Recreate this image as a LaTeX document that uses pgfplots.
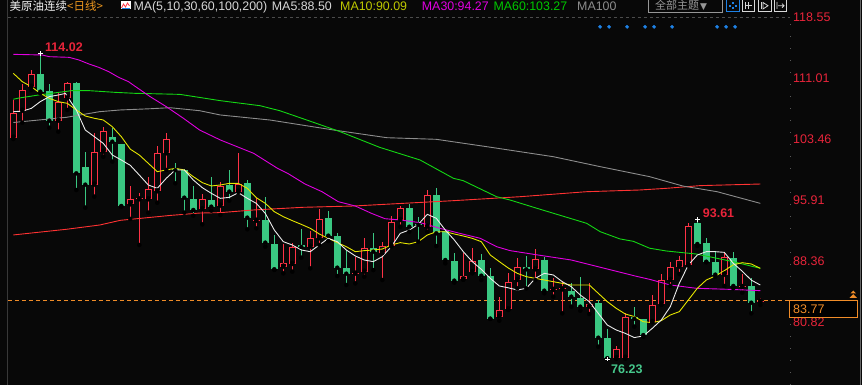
\documentclass[border=0pt]{standalone}
\usepackage{pgfplots}
\pgfplotsset{compat=1.18}
\usepackage{pgfplotstable}
\usepackage{fontspec}
\setmainfont{Liberation Sans}
\newfontfamily\cjkf{Noto Sans CJK SC}
\newfontfamily\dvs{DejaVu Sans}
\definecolor{bg}{RGB}{8,8,8}
\definecolor{upred}{RGB}{255,50,70}
\definecolor{dngreen}{RGB}{58,200,130}
\definecolor{ma5}{RGB}{235,235,235}
\definecolor{ma10}{RGB}{230,230,0}
\definecolor{ma30}{RGB}{225,0,225}
\definecolor{ma60}{RGB}{20,215,20}
\definecolor{ma100}{RGB}{140,140,140}
\definecolor{ma200}{RGB}{255,50,50}
\definecolor{axred}{RGB}{232,36,58}
\definecolor{curorange}{RGB}{240,140,40}
\definecolor{lowgreen}{RGB}{70,200,140}
\definecolor{dotblue}{RGB}{30,130,230}
\definecolor{hdrgray}{RGB}{215,215,215}
\definecolor{hdrwhite}{RGB}{240,240,240}
\definecolor{hdrorange}{RGB}{235,150,30}
\definecolor{ma10lbl}{RGB}{190,200,0}
\definecolor{ma60lbl}{RGB}{0,200,0}
\definecolor{btngray}{RGB}{150,150,150}

\pgfplotstableread{
i o h l c
0 103.62 108.28 103.46 106.63
1 106.96 110.26 105.48 109.52
2 109.93 111.99 109.52 111.50
5 105.73 109.11 104.37 108.08
6 108.49 110.55 107.05 110.35
9 97.81 104.16 96.33 101.81
10 101.89 104.90 101.27 104.41
13 95.38 97.65 93.57 96.00
14 96.00 96.74 90.35 96.12
15 96.00 98.72 94.35 97.23
16 96.99 102.59 95.58 101.69
17 101.69 104.16 99.63 103.42
21 94.76 96.66 92.90 96.00
23 95.21 98.18 94.06 97.69
25 96.95 101.69 96.90 97.89
27 93.35 96.13 92.41 93.47
30 87.67 90.47 86.84 88.08
31 88.00 90.55 87.05 90.06
33 90.14 92.08 87.46 91.17
34 91.17 94.76 90.35 93.52
38 86.80 88.82 85.60 86.92
39 87.05 91.17 86.43 89.93
41 89.32 90.76 86.02 90.22
42 90.27 93.94 90.14 93.24
43 93.44 95.17 92.61 94.88
46 92.61 97.15 92.00 96.53
50 86.10 89.32 86.05 86.55
51 86.97 90.02 86.84 88.37
54 81.49 83.87 80.99 82.31
55 82.39 86.84 82.31 85.73
56 86.02 88.70 84.99 87.58
58 87.34 89.81 86.02 88.57
60 84.80 86.23 83.96 84.92
61 84.85 85.94 81.89 84.97
64 82.72 85.60 81.81 83.00
67 76.35 77.85 76.30 77.44
68 76.40 81.89 76.30 81.40
71 80.82 84.20 80.80 82.88
72 83.01 86.76 82.93 86.02
73 86.02 88.28 85.28 87.67
74 87.67 88.99 86.76 88.49
75 87.87 93.03 87.80 92.70
79 86.68 89.40 85.28 88.82
81 85.15 86.76 84.45 85.27
83 83.34 83.75 82.93 83.46
}\updata

\pgfplotstableread{
i o h l c
3 111.50 114.02 109.10 109.31
4 109.40 110.26 104.86 105.73
7 110.35 110.47 97.15 99.21
8 100.00 101.81 94.97 97.81
11 103.67 104.78 100.66 103.13
12 102.84 102.90 95.10 95.17
18 99.75 100.45 97.98 99.60
19 99.63 99.70 94.35 96.20
20 96.04 97.65 93.98 94.68
22 95.91 98.72 94.60 95.09
24 97.77 99.63 95.83 96.95
26 98.06 98.39 92.29 93.73
28 93.44 96.24 90.14 90.64
29 90.47 91.58 87.26 87.34
32 90.35 92.28 88.78 90.10
35 93.64 94.55 90.84 91.50
36 91.46 91.79 86.51 87.54
37 87.54 89.73 85.40 86.80
40 89.93 91.79 87.25 89.52
44 94.88 95.42 92.00 92.61
45 93.00 93.77 90.76 92.85
47 96.53 97.36 90.22 91.79
48 92.12 92.20 88.08 88.49
49 88.37 89.32 85.69 85.94
52 88.49 89.23 86.02 86.55
53 86.51 87.46 81.20 81.24
57 87.58 88.99 84.99 87.34
59 88.49 88.90 84.37 84.70
62 84.66 85.69 82.72 83.96
63 83.75 86.35 82.23 82.72
65 83.21 83.54 77.77 78.88
66 78.80 79.92 76.23 76.35
69 81.48 82.64 80.25 81.23
70 81.15 81.20 78.99 79.21
76 93.11 93.50 90.22 90.47
77 90.55 91.17 88.20 88.28
78 88.24 89.65 86.43 86.68
80 88.70 89.52 84.99 85.28
82 85.28 86.23 81.89 83.21
}\dndata

\begin{document}
\begin{tikzpicture}[x=1pt,y=1pt]
\useasboundingbox (0,0) rectangle (862,385);
\fill[bg] (0,0) rectangle (862,385);

\begin{axis}[
  at={(8pt,0pt)}, anchor=south west,
  width=782pt, height=368pt, scale only axis,
  xmin=-0.589, xmax=86.3,
  ymin=73.03, ymax=118.55,
  axis line style={draw=none},
  xtick=\empty,
  ytick={118.55,111.01,103.46,95.91,88.36,80.82},
  yticklabels={118.55,111.01,103.46,95.91,88.36,80.82},
  ytick pos=right, yticklabel pos=right,
  major tick length=0pt,
  scaled y ticks=false,
  yticklabel style={anchor=west, inner sep=0pt, xshift=3pt, text=axred,
     font=\fontsize{12.5}{14}\selectfont},
]
% current price dashed line
\addplot[curorange, line width=1pt, dash pattern=on 4pt off 3pt, forget plot]
  coordinates {(-0.6,83.46) (86.3,83.46)};
% top grid line
\addplot[black!70!white, line width=0.8pt, dash pattern=on 3pt off 3pt, forget plot]
  coordinates {(-0.6,118.47) (86.3,118.47)};

% ---- up candles (hollow red)
\addplot[only marks, mark=none, forget plot,
  error bars/.cd, y dir=plus, y explicit, error mark=none,
  error bar style={draw=upred, line width=1pt}]
  table[x=i, y=l, y error expr=\thisrow{h}-\thisrow{l}] {\updata};
\addplot[only marks, mark=none, forget plot,
  error bars/.cd, y dir=plus, y explicit, error mark=none,
  error bar style={draw=upred, line width=6.5pt}]
  table[x=i, y=o, y error expr=\thisrow{c}-\thisrow{o}] {\updata};
\addplot[only marks, mark=none, forget plot,
  error bars/.cd, y dir=plus, y explicit, error mark=none,
  error bar style={draw=bg, line width=4.5pt}]
  table[x=i, y expr=\thisrow{o}+0.125, y error expr={max(\thisrow{c}-\thisrow{o}-0.25,0)}] {\updata};

% ---- down candles (filled green)
\addplot[only marks, mark=none, forget plot,
  error bars/.cd, y dir=plus, y explicit, error mark=none,
  error bar style={draw=dngreen, line width=1pt}]
  table[x=i, y=l, y error expr=\thisrow{h}-\thisrow{l}] {\dndata};
\addplot[only marks, mark=none, forget plot,
  error bars/.cd, y dir=plus, y explicit, error mark=none,
  error bar style={draw=dngreen, line width=6.5pt}]
  table[x=i, y=c, y error expr=\thisrow{o}-\thisrow{c}] {\dndata};

% ---- MA200
\addplot[ma200, line width=0.9pt, mark=none] coordinates {
(0,91.59) (5.9,92.29) (9.6,92.82) (11.9,93.4) (17.4,94.0) (20.7,94.3) (23,94.35)
(26.7,94.68) (32.2,95.01) (37.8,95.17) (43.3,95.5) (48.9,95.83) (56.3,96.32)
(63.7,96.94) (69.6,97.15) (72.6,97.36) (76.3,97.69) (83,97.89)};
% ---- MA100
\addplot[ma100, line width=0.9pt, mark=none] coordinates {
(0,105.5) (5.9,106.14) (9.6,106.84) (11.9,107.05) (15.2,107.2) (17.4,107.33)
(20.7,106.96) (23,106.43) (28.5,105.81) (35.6,104.57) (41.5,103.62) (47,103.42)
(52.6,102.51) (60,101.27) (65.2,100.04) (70.7,98.8) (74.4,97.64) (78.2,96.94) (83,95.5)};
% ---- MA60
\addplot[ma60, line width=0.9pt, mark=none] coordinates {
(0,108.37) (0.5,108.5) (2.8,108.9) (6.5,109.44) (8.4,109.44) (11.3,109.23)
(13.5,109.11) (18.5,108.98) (23,108.2) (27.4,107.58) (29.6,106.96) (32.6,105.81)
(36.3,104.37) (40.7,102.43) (45.2,100.86) (48.9,98.6) (50,98.3) (53.7,96.32)
(55.2,95.91) (58.2,94.88) (63.7,93.03) (65.2,92.0) (67.4,91.1) (68.9,90.8)
(70.7,89.95) (72.6,89.6) (75.9,89.23) (80,88.28) (83,87.46)};
% ---- MA30
\addplot[ma30, line width=0.9pt, mark=none] coordinates {
(0,113.93) (3.2,113.85) (4,113.64) (6.2,113.56) (7.3,113.23) (8.4,112.74)
(9.5,112.32) (10.6,111.79) (11.7,111.09) (12.8,110.55) (13.5,110.0) (15.2,108.7)
(17.0,107.46) (18.9,106.02) (20.7,104.57) (23,103.34) (26.7,101.69) (29.4,99.8)
(30.5,99.2) (32.4,97.9) (34.3,96.94) (36.1,95.71) (38.0,95.17) (39.8,94.26)
(41.3,93.6) (43.0,93.44) (45.2,93.11) (47.4,92.41) (49.6,91.79) (51.9,91.17)
(53.7,90.14) (55.2,89.65) (58.3,89.11) (62,88.49) (65.7,87.46) (69.1,86.51)
(70.7,86.1) (73,85.4) (75.9,84.99) (79.6,84.86) (83,84.7)};
% ---- MA10
\addplot[ma10, line width=0.9pt, mark=none] coordinates {
(0,111.58) (1,110.55) (2,109.93) (3,109.11) (4,108.49) (5,108.08) (6,107.87)
(7,107.05) (8,106.3) (9,106.02) (10,105.81) (11,104.98) (12,103.75) (13,102.2)
(14,101.48) (15,100.45) (16,99.42) (17,99.63) (18,99.83) (19,99.63) (20,98.8)
(21,98.06) (22,97.65) (23,97.77) (24,97.97) (25,97.97) (26,97.36) (27,96.2)
(28,95.5) (29,94.47) (30,93.85) (31,93.36) (32,92.9) (33,92.41) (34,91.71)
(35,91.17) (36,90.64) (37,90.14) (38,89.52) (39,89.65) (40,89.73) (41,89.85)
(42,90.35) (43,90.64) (44,90.47) (45,90.76) (46,91.58) (47,91.99) (48,91.99)
(49,91.71) (50,91.46) (51,91.17) (52,90.76) (53,89.11) (54,88.29) (55,87.5)
(56,86.84) (57,86.43) (58,86.22) (59,86.02) (60,85.81) (61,85.6) (62,85.4)
(63,85.4) (64,85.4) (65,84.37) (66,83.34) (67,82.51) (68,81.81) (69,81.5)
(70,80.86) (71,80.74) (72,80.99) (73,81.69) (74,82.1) (75,83.54) (76,84.99)
(77,86.02) (78,86.51) (79,87.17) (80,87.9) (81,88.16) (82,88.0) (83,87.46)};
% ---- MA5
\addplot[ma5, line width=0.9pt, mark=none] coordinates {
(0,106.84) (1,106.9) (2,107.25) (3,108.08) (4,108.7) (5,108.9) (5.8,109.1)
(6,108.7) (7,107.05) (8,104.57) (9,103.75) (10,102.92) (11,101.48) (12,100.86)
(13,100.2) (14,99.0) (15,97.77) (16,97.36) (17,98.6) (18,99.63) (19,99.63)
(20,98.39) (21,97.44) (22,96.74) (23,96.12) (24,96.24) (25,96.82) (26,96.12)
(27,95.5) (28,94.26) (29,92.2) (30,90.76) (31,90.35) (32,89.73) (33,89.52)
(34,90.35) (35,91.17) (36,90.76) (37,89.73) (38,88.99) (39,88.49) (40,88.29)
(41,88.9) (42,90.14) (43,91.79) (44,92.2) (45,92.9) (46,94.14) (47,93.65)
(48,92.2) (49,90.97) (50,89.52) (51,88.29) (52,87.34) (53,86.22) (54,85.28)
(55,85.05) (56,84.78) (57,84.99) (58,86.22) (59,86.84) (60,86.64) (61,85.81)
(62,85.19) (63,84.16) (64,83.34) (65,81.89) (66,80.45) (67,79.83) (68,79.42)
(69,78.9) (70,79.09) (71,80.04) (72,81.07) (73,82.72) (74,85.61) (75,87.87)
(76,89.11) (77,89.52) (78,89.52) (79,89.44) (80,88.08) (81,87.1) (82,86.0) (83,85.4)};

% extreme markers
\addplot[only marks, mark=+, mark size=2.2pt, white, line width=0.9pt]
  coordinates {(3,114.02) (76,93.5) (66,76.23)};
% event dots
\addplot[only marks, mark=*, mark size=1.7pt, dotblue]
  coordinates {(65.2,117.33) (66.2,117.33) (68.2,117.33) (70.2,117.33) (71.2,117.33)
               (73.2,117.33) (78.2,117.33) (79.2,117.33) (80.2,117.33)};

\node[anchor=west, inner sep=0pt, text=axred, font=\bfseries\fontsize{12.5}{14}\selectfont]
  at (axis cs:3.52,114.8) {114.02};
\node[anchor=west, inner sep=0pt, text=axred, font=\bfseries\fontsize{12.5}{14}\selectfont]
  at (axis cs:76.6,94.27) {93.61};
\node[anchor=west, inner sep=0pt, text=lowgreen, font=\bfseries\fontsize{12.5}{14}\selectfont]
  at (axis cs:66.41,75.0) {76.23};
\end{axis}

% frame lines
\draw[black!78!white, line width=1.5pt] (7.5,0) -- (7.5,385);
\draw[black!60!white, line width=1pt] (860,0) -- (860,385);
\draw[black!65!white, line width=1pt, dash pattern=on 1pt off 11pt] (790,0) -- (790,368);

% current price box
\draw[curorange, fill=black, line width=1pt] (789,84.3) rectangle (857,67.7);
\node[anchor=west, inner sep=0pt, text=curorange, font=\fontsize{12.5}{14}\selectfont] at (793,76) {83.77};
\fill[curorange] (849.5,87) -- (857,87) -- (853.25,91) -- cycle;
\fill[curorange] (850.5,91.5) -- (856,91.5) -- (853.25,94.5) -- cycle;

% header
\node[anchor=base west, inner sep=0pt, text=hdrwhite, font=\cjkf\fontsize{11.5}{12}\selectfont] at (9.5,374.3) {美原油连续};
\node[anchor=base west, inner sep=0pt, text=hdrorange, font=\cjkf\fontsize{11.5}{12}\selectfont] at (67,374.3) {<日线>};
\fill[white] (120.5,375.5) rectangle (130.5,383.5);
\draw[upred, line width=0.8pt] (121.5,377) -- (123.5,381) -- (125.5,378) -- (127.5,382) -- (129.5,379);
\draw[dotblue, line width=0.6pt] (121.5,376.2) -- (129.5,376.2);
\node[anchor=base west, inner sep=0pt, text=hdrgray, font=\fontsize{12.4}{13}\selectfont] at (133.3,374.3) {MA(5,10,30,60,100,200)};
\node[anchor=base west, inner sep=0pt, text=hdrgray, font=\fontsize{12.4}{13}\selectfont] at (271.7,374.3) {MA5:88.50};
\node[anchor=base west, inner sep=0pt, text=ma10lbl, font=\fontsize{12.4}{13}\selectfont] at (340,374.3) {MA10:90.09};
\node[anchor=base west, inner sep=0pt, text=ma30, font=\fontsize{12.4}{13}\selectfont] at (421.7,374.3) {MA30:94.27};
\node[anchor=base west, inner sep=0pt, text=ma60lbl, font=\fontsize{12.4}{13}\selectfont] at (493.3,374.3) {MA60:103.27};
\node[anchor=base east, inner sep=0pt, text=ma100, font=\fontsize{12.4}{13}\selectfont] at (616.7,374.3) {MA100};

% button and icons
\draw[btngray, line width=0.8pt] (648.3,385.5) rectangle (722.7,372.3);
\node[anchor=base west, inner sep=0pt, text=btngray, font=\cjkf\fontsize{11}{12}\selectfont] at (655,375) {全部主题};
\node[anchor=base west, inner sep=0pt, text=btngray, font=\dvs\fontsize{9}{10}\selectfont] at (700,375.5) {▼};
\draw[dotblue, line width=0.8pt] (726.5,385.5) rectangle (739,373.3);
\fill[dotblue] (731.8,381.2) rectangle (733.8,383.2);
\fill[dotblue] (731.8,375.6) rectangle (733.8,377.6);
\fill[dotblue] (729,378.4) rectangle (731,380.4);
\fill[dotblue] (734.6,378.4) rectangle (736.6,380.4);
\foreach \xa in {742,758.3,774}{
  \draw[hdrgray, line width=0.8pt] (\xa,385.5) rectangle (\xa+12.7,373.3);
}
\draw[hdrgray, line width=0.8pt] (745,375.5) -- (745,383) (745,379.3) -- (752,379.3) (748.5,376) -- (748.5,382.5);
\draw[hdrgray, line width=0.8pt] (761,375.5) -- (761,383);
\draw[hdrgray, line width=0.8pt] (763,376) -- (768,379.3) -- (763,382.5) -- cycle;
\draw[hdrgray, line width=0.8pt] (777,376) -- (777,383) (778,379.3) -- (784,379.3) (782,381.3) -- (784,379.3) -- (782,377.3);
\end{tikzpicture}
\end{document}
